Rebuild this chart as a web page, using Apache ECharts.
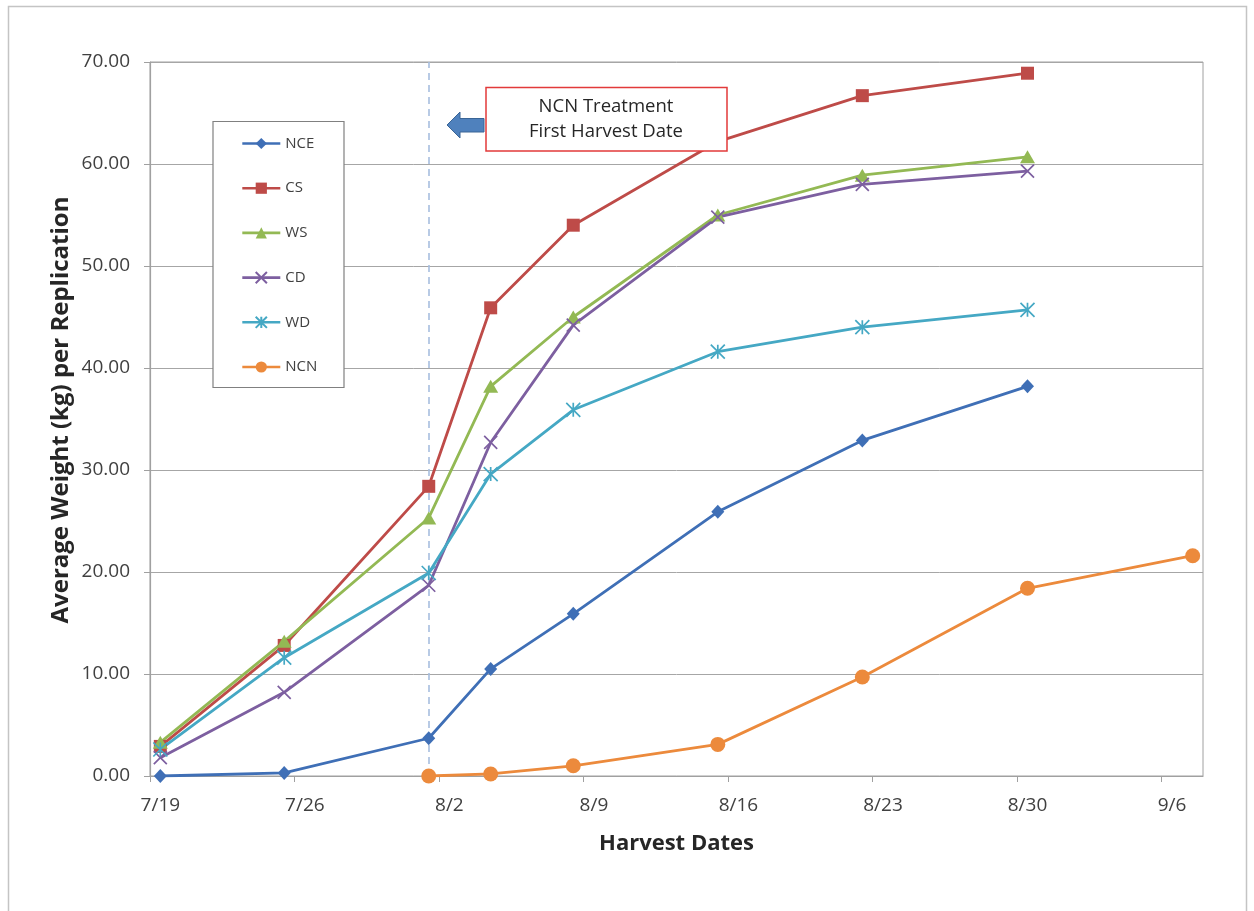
<!DOCTYPE html>
<html><head><meta charset="utf-8">
<script src="https://cdn.jsdelivr.net/npm/echarts@6/dist/echarts.min.js"></script>
<style>html,body{margin:0;padding:0;background:#fff}#c{width:1254px;height:911px}</style>
</head><body><div id="c"></div>
<script>
// ---- data ----
const harvestDates = ['7/19','7/25','8/1','8/4','8/8','8/15','8/22','8/30','9/7'];
const NCE = [0.0, 0.3, 3.7, 10.5, 15.9, 25.9, 32.9, 38.2, null];
const CS  = [2.9, 12.8, 28.4, 45.9, 54.0, 62.2, 66.7, 68.9, null];
const WS  = [3.3, 13.2, 25.3, 38.2, 45.0, 55.0, 58.9, 60.7, null];
const CD  = [1.8, 8.2, 18.7, 32.7, 44.2, 54.8, 58.0, 59.3, null];
const WD  = [2.6, 11.6, 19.9, 29.6, 35.9, 41.6, 44.0, 45.7, null];
const NCN = [null, null, 0.0, 0.2, 1.0, 3.1, 9.7, 18.4, 21.6];
const seriesNames = ['NCE','CS','WS','CD','WD','NCN'];
const tickLabels = ['7/19','7/26','8/2','8/9','8/16','8/23','8/30','9/6'];
const lastAxisDate = '9/7';
const yMin = 0, yMax = 70, yStep = 10;
const yTitle = 'Average Weight (kg) per Replication';
const xTitle = 'Harvest Dates';

// ---- helpers ----
function dayOf(s){ const p = s.split('/').map(Number); return Math.round((Date.UTC(2013,p[0]-1,p[1]) - Date.UTC(2013,6,19)) / 86400000); }
function pairs(vals){ const out=[]; vals.forEach((v,i)=>{ if(v!==null) out.push([dayOf(harvestDates[i]), v]); }); return out; }

const colors = {NCE:'#3F6FB6', CS:'#BE4B48', WS:'#93B954', CD:'#7D5FA0', WD:'#45A8C4', NCN:'#EC8A3C'};
const symbols = {
  NCE: 'diamond', CS: 'rect', WS: 'triangle',
  CD: 'path://M0,0 L10,10 M10,0 L0,10',
  WD: 'path://M5,0 L5,10 M0,0 L10,10 M10,0 L0,10',
  NCN: 'circle'
};
const sizes = {NCE:[13,14], CS:13, WS:[15,13], CD:13, WD:14, NCN:15};
const values = {NCE, CS, WS, CD, WD, NCN};
const FONT = '"Open Sans", sans-serif';

const firstNCN = harvestDates[NCN.findIndex(v=>v!==null)];
const labelDays = tickLabels.map(dayOf);

const series = seriesNames.map(n => {
  const s = {
    name: n, type: 'line', data: pairs(values[n]),
    symbol: symbols[n], symbolSize: sizes[n], showSymbol: true,
    lineStyle: {color: colors[n], width: 2.8},
    itemStyle: {color: colors[n], borderColor: colors[n], borderWidth: (n==='CD'||n==='WD') ? 1.7 : 0},
    emphasis: {disabled: true}, animation: false, z: 2
  };
  if (n === 'NCN') {
    s.markLine = {
      silent: true, symbol: ['none','none'], label: {show:false},
      lineStyle: {type:[7,5], color:'#A7BEDF', width:1.6},
      data: [{xAxis: dayOf(firstNCN)}], z: 1
    };
  }
  return s;
});

const chart = echarts.init(document.getElementById('c'), null, {renderer:'canvas'});
chart.setOption({
  backgroundColor: '#fff',
  animation: false,
  grid: {left:150, right:51, top:62, bottom:135, show:true, borderColor:'#A0A0A0', borderWidth:1, backgroundColor:'transparent'},
  xAxis: {
    type:'value', min: dayOf(tickLabels[0]) - 0.5, max: dayOf(lastAxisDate) + 0.5,
    splitLine:{show:false},
    axisLine:{show:true, onZero:false, lineStyle:{color:'#A0A0A0', width:1.2}},
    axisTick:{show:true, length:6, lineStyle:{color:'#A0A0A0'}, customValues: labelDays.map(d=>d-0.5)},
    axisLabel:{show:true, customValues: labelDays, margin:20, fontSize:19, color:'#404040', fontFamily:FONT,
      formatter: v => { const i = labelDays.indexOf(Math.round(v)); return i>=0 ? tickLabels[i] : ''; }},
    name: xTitle, nameLocation:'middle', nameGap:57,
    nameTextStyle:{fontSize:22, fontWeight:'bold', color:'#262626', fontFamily:FONT}
  },
  yAxis: {
    type:'value', min:yMin, max:yMax, interval:yStep,
    splitLine:{show:true, lineStyle:{color:'#A6A6A6', width:1}},
    axisLine:{show:true, onZero:false, lineStyle:{color:'#A0A0A0', width:1.2}},
    axisTick:{show:true, length:6, lineStyle:{color:'#A0A0A0'}},
    axisLabel:{margin:20, fontSize:19, color:'#404040', fontFamily:FONT, formatter: v => v.toFixed(2)}
  },
  legend: {
    data: seriesNames, orient:'vertical', left:241, top:136, itemWidth:38, itemHeight:14, itemGap:29.7,
    lineStyle:{width:2.6},
    padding:0, textStyle:{fontSize:15, color:'#404040', fontFamily:FONT, lineHeight:14}, selectedMode:false, z:6
  },
  graphic: [
    {type:'rect', shape:{x:8.5, y:6.5, width:1238, height:930}, style:{fill:'none', stroke:'#C4C4C4', lineWidth:1.5}, z:0, silent:true},
    {type:'text', x:61, y:410, rotation:Math.PI/2, style:{text:yTitle, fill:'#262626', font:'bold 24px '+FONT, textAlign:'center', textVerticalAlign:'middle'}, z:6, silent:true},
    {type:'rect', shape:{x:213, y:121.5, width:131, height:266}, style:{fill:'#fff', stroke:'#808080', lineWidth:1.2}, z:5, silent:true},
    {type:'polygon', shape:{points:[[447,125],[460,112],[460,118.5],[484,118.5],[484,132],[460,132],[460,138]]},
      style:{fill:'#4F81BD', stroke:'#3A6596', lineWidth:1}, z:5, silent:true},
    {type:'rect', shape:{x:486, y:87.5, width:241, height:63.5}, style:{fill:'#fff', stroke:'#E23A3A', lineWidth:1.5}, z:5, silent:true},
    {type:'text', x:606, y:107, style:{text:'NCN Treatment', fill:'#262626', font:'18.5px '+FONT, textAlign:'center', textVerticalAlign:'middle'}, z:6, silent:true},
    {type:'text', x:606, y:132, style:{text:'First Harvest Date', fill:'#262626', font:'18.5px '+FONT, textAlign:'center', textVerticalAlign:'middle'}, z:6, silent:true}
  ],
  series
});
</script>
</body></html>
